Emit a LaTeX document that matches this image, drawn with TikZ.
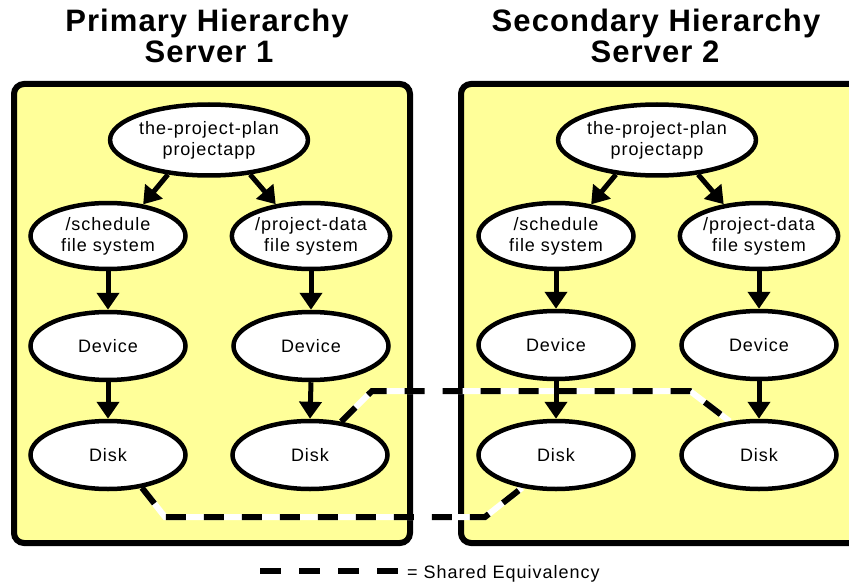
\documentclass[tikz,border=0pt]{standalone}
\usepackage{fontspec}
\setmainfont{Liberation Sans}
\newfontfamily\titlefont[LetterSpace=3.5]{Liberation Sans}
\newfontfamily\nodefont[LetterSpace=5.5]{Liberation Sans}
\usetikzlibrary{shapes.geometric,arrows.meta}
\definecolor{panelyellow}{HTML}{FFFF99}
\pgfdeclarelayer{bg}
\pgfdeclarelayer{mid}
\pgfsetlayers{bg,mid,main}
\begin{document}
\begin{tikzpicture}[x=1pt,y=-1pt,
  panel/.style={draw=black, line width=6pt, fill=panelyellow, rounded corners=10pt},
  ell/.style={ellipse, draw=black, line width=4.5pt, fill=white, inner sep=0pt,
    minimum width=155pt, minimum height=66pt, align=center,
    font=\nodefont\fontsize{18}{21}\selectfont},
  topell/.style={ell, minimum width=168pt, minimum height=71pt},
  lowell/.style={ell, minimum height=68pt},
  arr/.style={line width=5pt, -{Triangle[length=17pt,width=22pt]}},
  eqwhite/.style={line width=6pt, white},
  eqdash/.style={line width=6pt, black, dash pattern=on 20pt off 18pt},
  ttl/.style={font=\titlefont\bfseries\fontsize{31}{31}\selectfont, anchor=base, inner sep=0pt},
  lgtext/.style={font=\nodefont\fontsize{18}{21}\selectfont, anchor=base west, inner sep=0pt}]
\clip (0,0) rectangle (849,583);
\begin{pgfonlayer}{bg}
\fill[white] (0,0) rectangle (849,583);
\draw[panel] (14,84) rectangle (410,543);
\draw[panel] (461,84) rectangle (880,543);
\end{pgfonlayer}

% titles
\node[ttl] (t1a) at (207,32) {Primary Hierarchy};
\node[ttl] (t1b) at (209,63) {Server 1};
\node[ttl] (t2a) at (656,32) {Secondary Hierarchy};
\node[ttl] (t2b) at (655,63) {Server 2};

% left hierarchy
\node[topell] (ltop) at (209,140) {the-project-plan\\projectapp};
\node[ell] (lsch) at (108,236) {/schedule\\file system};
\node[ell] (lpd) at (311,236) {/project-data\\file system};
\node[lowell] (ldev1) at (108,346) {Device};
\node[lowell] (ldev2) at (311,346) {Device};
\node[lowell] (ldisk1) at (108,455) {Disk};
\node[lowell] (ldisk2) at (310,455) {Disk};

% right hierarchy
\node[topell] (rtop) at (657,140) {the-project-plan\\projectapp};
\node[ell] (rsch) at (556,236) {/schedule\\file system};
\node[ell] (rpd) at (759,236) {/project-data\\file system};
\node[lowell] (rdev1) at (556,345) {Device};
\node[lowell] (rdev2) at (759,345) {Device};
\node[lowell] (rdisk1) at (556,455) {Disk};
\node[lowell] (rdisk2) at (759,455) {Disk};

% shared equivalency lines
\coordinate (a1) at (165,517);
\coordinate (a2) at (485,517);
\coordinate (b1) at (372,391);
\coordinate (b2) at (690,391);
\begin{pgfonlayer}{mid}
\draw[eqwhite] (ldisk1.-44) -- (a1) -- (a2) -- (rdisk1.-136);
\draw[eqdash] (ldisk1.-44) -- (a1) -- (a2) -- (rdisk1.-136);
\draw[eqwhite] (ldisk2.47) -- (b1) -- (b2) -- (rdisk2.131);
\draw[eqdash] (ldisk2.47) -- (b1) -- (b2) -- (rdisk2.131);
\end{pgfonlayer}

% arrows
\draw[arr] (ltop.-140) -- (lsch.42);
\draw[arr] (ltop.-40) -- (lpd.138);
\draw[arr] (lsch.south) -- (ldev1.north);
\draw[arr] (lpd.south) -- (ldev2.north);
\draw[arr] (ldev1.south) -- (ldisk1.north);
\draw[arr] (ldev2.south) -- (ldisk2.north);
\draw[arr] (rtop.-140) -- (rsch.42);
\draw[arr] (rtop.-40) -- (rpd.138);
\draw[arr] (rsch.south) -- (rdev1.north);
\draw[arr] (rpd.south) -- (rdev2.north);
\draw[arr] (rdev1.south) -- (rdisk1.north);
\draw[arr] (rdev2.south) -- (rdisk2.north);

% legend
\coordinate (lg1) at (260,571);
\coordinate (lg2) at (400,571);
\draw[line width=6pt, black, dash pattern=on 21pt off 18pt] (lg1) -- (lg2);
\node[lgtext] (lgt) at (407,578) {= Shared Equivalency};
\end{tikzpicture}
\end{document}
